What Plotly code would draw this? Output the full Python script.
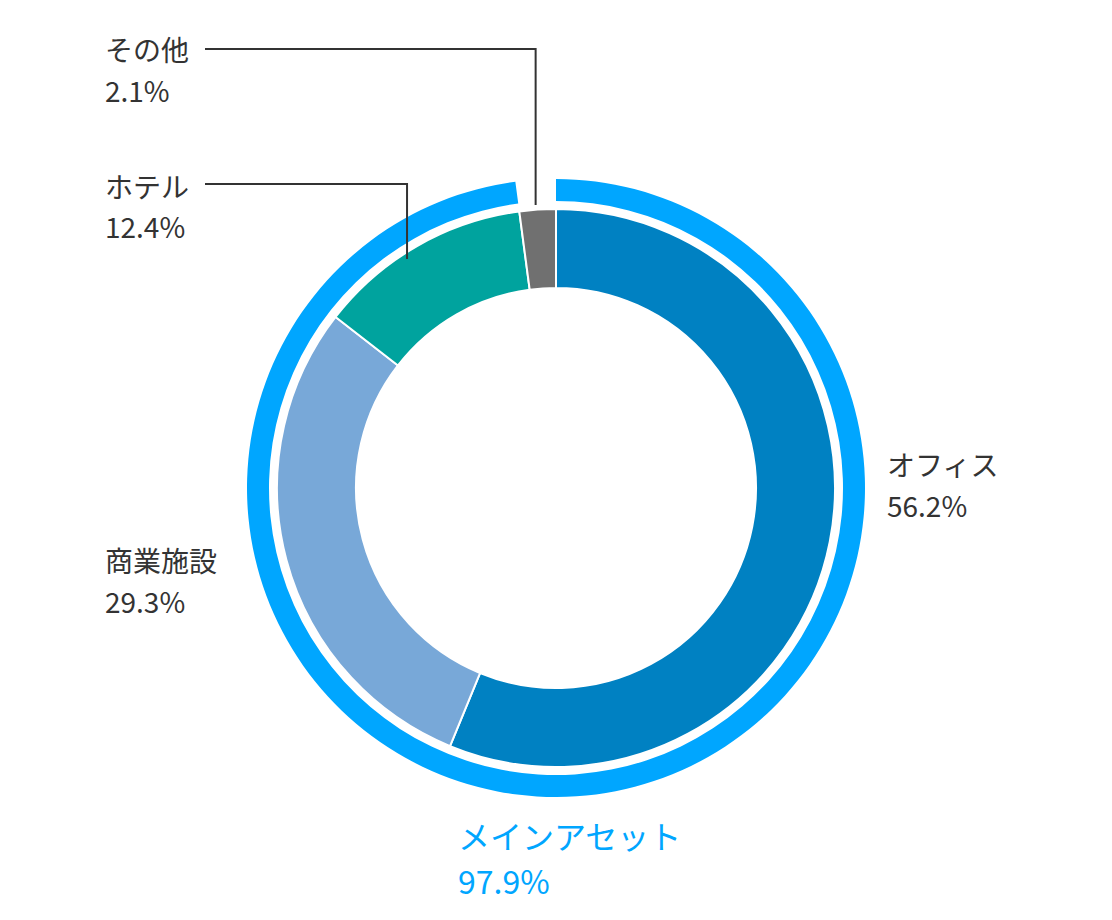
import math
import plotly.graph_objects as go

# ---- data ----
categories = ["オフィス", "商業施設", "ホテル", "その他"]
shares = [56.2, 29.3, 12.4, 2.1]
colors = ["#0081C2", "#78A8D8", "#00A39E", "#707070"]

main_label = "メインアセット"
main_share = 97.9
rest_share = 2.1

W, H = 1112, 920
CX, CY = 556, 488          # centre in pixels (from top)
R_OUT, R_OUT_IN = 309, 287  # outer ring radii
R_IN, R_HOLE = 279, 200     # inner donut radii

def dom(r):
    return dict(x=[(CX - r) / W, (CX + r) / W],
                y=[(H - CY - r) / H, (H - CY + r) / H])

fig = go.Figure()
fig.add_trace(go.Pie(
    values=[main_share, rest_share], labels=[main_label, "_rest"],
    marker=dict(colors=["#00A6FF", "rgba(0,0,0,0)"], line=dict(width=0)),
    hole=R_OUT_IN / R_OUT, sort=False, direction="clockwise", rotation=0,
    textinfo="none", hoverinfo="skip", showlegend=False, domain=dom(R_OUT)))
fig.add_trace(go.Pie(
    values=shares, labels=categories,
    marker=dict(colors=colors, line=dict(color="white", width=2)),
    hole=R_HOLE / R_IN, sort=False, direction="clockwise", rotation=0,
    textinfo="none", showlegend=False, domain=dom(R_IN)))

FONT = "Noto Sans CJK JP"
TXT = "#333333"
ann = []
shapes = []

def px(x, y):
    return x / W, 1 - y / H

def label(x, y, text, size=28, color=TXT):
    ax, ay = px(x, y)
    ann.append(dict(x=ax, y=ay, xref="paper", yref="paper", text=text,
                    showarrow=False, xanchor="left", yanchor="middle",
                    font=dict(family=FONT, size=size, color=color)))

def line(pts):
    path = "M " + " L ".join(f"{px(x,y)[0]},{px(x,y)[1]}" for x, y in pts)
    shapes.append(dict(type="path", path=path, xref="paper", yref="paper",
                       line=dict(color="#333333", width=2)))

# mid angles of slices (clockwise from 12 o'clock)
cum = 0
mids = []
for s in shares:
    mids.append((cum + s / 2) / 100 * 2 * math.pi)
    cum += s

# その他 leader
a = mids[3]
x_o = CX + R_OUT * math.sin(a)
line([(205, 49), (x_o, 49), (x_o, 205)])
# ホテル leader
a = mids[2]
r_h = 299
x_h = CX + r_h * math.sin(a)
y_end = CY - math.sqrt(R_IN ** 2 - (x_h - CX) ** 2) + 7
line([(205, 184), (x_h, 184), (x_h, y_end)])

label(103, 49, categories[3]); label(103, 90, f"{shares[3]}%")
label(103, 186, categories[2]); label(103, 226, f"{shares[2]}%")
label(885, 464, categories[0]); label(885, 505, f"{shares[0]}%")
label(103, 560, categories[1]); label(103, 601, f"{shares[1]}%")
label(456, 835, main_label, size=32, color="#00A6FF")
label(456, 880, f"{main_share}%", size=32, color="#00A6FF")

fig.update_layout(width=W, height=H, margin=dict(l=0, r=0, t=0, b=0),
                  paper_bgcolor="white", plot_bgcolor="white",
                  annotations=ann, shapes=shapes)
fig.write_html("out.html", config={"displayModeBar": False},
               post_script="document.body.style.margin='0';")
